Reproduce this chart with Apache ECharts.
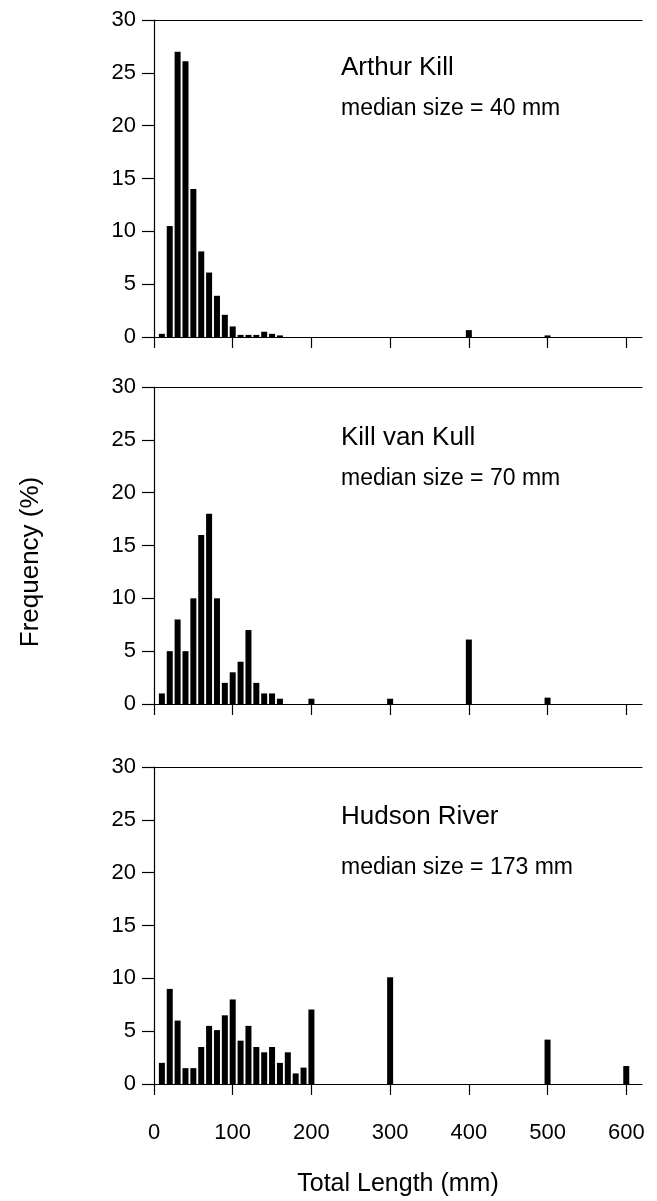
<!DOCTYPE html>
<html>
<head>
<meta charset="utf-8">
<script src="https://cdn.jsdelivr.net/npm/echarts@6/dist/echarts.min.js"></script>
<style>
html,body{margin:0;padding:0;background:#fff;}
#c{width:657px;height:1201px;}
</style>
</head>
<body>
<div id="c"></div>
<script>
// ---- data ----
const xTicks = [0, 100, 200, 300, 400, 500, 600];
const yTicks = [0, 5, 10, 15, 20, 25, 30];
const siteNames = ["Arthur Kill", "Kill van Kull", "Hudson River"];
const medianLabels = ["median size = 40 mm", "median size = 70 mm", "median size = 173 mm"];

const arthurLength = [10, 20, 30, 40, 50, 60, 70, 80, 90, 100, 110, 120, 130, 140, 150, 160, 400, 500];
const arthurFreq   = [0.3, 10.5, 27, 26.1, 14, 8.1, 6.1, 3.9, 2.1, 1.0, 0.2, 0.2, 0.2, 0.5, 0.3, 0.15, 0.65, 0.15];

const killLength = [10, 20, 30, 40, 50, 60, 70, 80, 90, 100, 110, 120, 130, 140, 150, 160, 200, 300, 400, 500];
const killFreq   = [1, 5, 8, 5, 10, 16, 18, 10, 2, 3, 4, 7, 2, 1, 1, 0.5, 0.5, 0.5, 6.1, 0.6];

const hudsonLength = [10, 20, 30, 40, 50, 60, 70, 80, 90, 100, 110, 120, 130, 140, 150, 160, 170, 180, 190, 200, 300, 500, 600];
const hudsonFreq   = [2, 9, 6, 1.5, 1.5, 3.5, 5.5, 5.1, 6.5, 8, 4.1, 5.5, 3.5, 3, 3.5, 2, 3, 1, 1.55, 7.05, 10.1, 4.2, 1.7];

// ---- layout ----
const FONT = '"Liberation Sans", Arial, Helvetica, sans-serif';
const panelTops = [20, 387, 767];
const panelH = 317;
const gridLeft = 154, gridRight = 15;
const series = [
  [arthurLength, arthurFreq],
  [killLength, killFreq],
  [hudsonLength, hudsonFreq]
];
const textOffsets = [[48, 89], [51, 92], [50, 101]];

const grids = [], xAxes = [], yAxes = [], seriesList = [], graphics = [];
panelTops.forEach((top, i) => {
  grids.push({left: gridLeft, right: gridRight, top: top, height: panelH});
  const isLast = i === panelTops.length - 1;
  xAxes.push({
    type: 'value', gridIndex: i, min: 0, max: 620, interval: 100,
    position: 'bottom',
    axisLine: {show: true, onZero: false, lineStyle: {color: '#000', width: 1.2}},
    axisTick: {show: true, inside: false, length: 11, lineStyle: {color: '#000', width: 1.2},
      customValues: xTicks},
    axisLabel: {show: isLast, margin: 38, color: '#000', fontSize: 22, fontFamily: FONT,
      customValues: xTicks},
    splitLine: {show: false},
    name: isLast ? 'Total Length (mm)' : '',
    nameLocation: 'middle', nameGap: 88,
    nameTextStyle: {color: '#000', fontSize: 25, fontFamily: FONT}
  });
  xAxes.push({
    type: 'value', gridIndex: i, min: 0, max: 620, position: 'top',
    axisLine: {show: true, onZero: false, lineStyle: {color: '#000', width: 1.2}},
    axisTick: {show: false}, axisLabel: {show: false}, splitLine: {show: false}
  });
  yAxes.push({
    type: 'value', gridIndex: i, min: 0, max: 30, interval: 5,
    axisLine: {show: true, onZero: false, lineStyle: {color: '#000', width: 1.2}},
    axisTick: {show: true, inside: false, length: 12, lineStyle: {color: '#000', width: 1.2}},
    axisLabel: {margin: 18, color: '#000', fontSize: 22, fontFamily: FONT,
      customValues: yTicks},
    splitLine: {show: false}
  });
  const xs = series[i][0], ys = series[i][1];
  seriesList.push({
    type: 'bar', xAxisIndex: i * 2, yAxisIndex: i,
    data: xs.map((x, k) => [x, ys[k]]),
    barWidth: 6,
    itemStyle: {color: '#000'},
    silent: true, animation: false
  });
  graphics.push({
    type: 'text', x: 341, y: top + textOffsets[i][0],
    style: {text: siteNames[i], font: '26px ' + FONT, fill: '#000',
      textAlign: 'left', textVerticalAlign: 'middle'}
  });
  graphics.push({
    type: 'text', x: 341, y: top + textOffsets[i][1],
    style: {text: medianLabels[i], font: '23px ' + FONT, fill: '#000',
      textAlign: 'left', textVerticalAlign: 'middle'}
  });
});
graphics.push({
  type: 'text', x: 31, y: 562, rotation: Math.PI / 2,
  style: {text: 'Frequency (%)', font: '26px ' + FONT, fill: '#000',
    textAlign: 'center', textVerticalAlign: 'middle'}
});

const chart = echarts.init(document.getElementById('c'), null, {renderer: 'canvas'});
chart.setOption({
  backgroundColor: '#fff',
  animation: false,
  grid: grids,
  xAxis: xAxes,
  yAxis: yAxes,
  series: seriesList,
  graphic: graphics
});
</script>
</body>
</html>
